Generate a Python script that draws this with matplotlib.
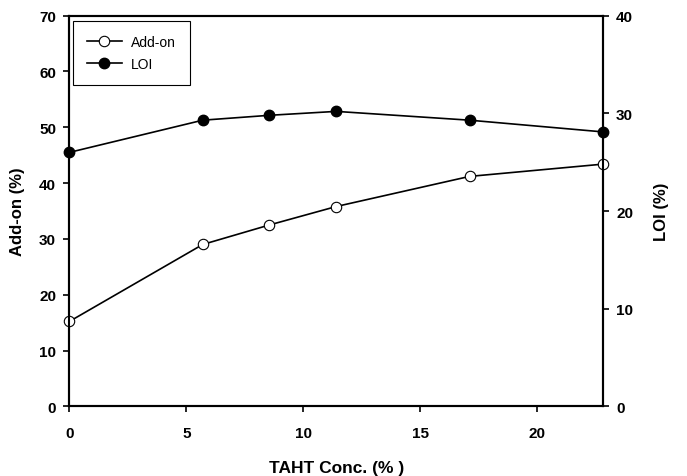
import numpy as np
import matplotlib
matplotlib.use("Agg")
import matplotlib.pyplot as plt

plt.rcParams['font.family'] = ['Liberation Sans', 'DejaVu Sans']

conc = [0, 5.7, 8.55, 11.4, 17.1, 22.8]
addon = [15.2, 29.0, 32.5, 35.8, 41.2, 43.4]
loi = [26.0, 29.3, 29.8, 30.2, 29.3, 28.1]

fig = plt.figure(figsize=(6.87, 4.77), dpi=100)
ax = fig.add_axes([0.1009, 0.1461, 0.7768, 0.8189])
ax2 = ax.twinx()

l1, = ax.plot(conc, addon, color='black', lw=1.2, marker='o', ms=7.5,
              mfc='white', mec='black', mew=0.8, clip_on=False, zorder=5, label='Add-on')
l2, = ax2.plot(conc, loi, color='black', lw=1.2, marker='o', ms=7.5,
               mfc='black', mec='black', clip_on=False, zorder=5, label='LOI')

ax.set_xlim(0, 22.8)
ax.set_ylim(0, 70)
ax2.set_ylim(0, 40)
ax.set_xticks([0, 5, 10, 15, 20])
ax.set_yticks(np.arange(0, 71, 10))
ax2.set_yticks(np.arange(0, 41, 10))

for a in (ax, ax2):
    for s in a.spines.values():
        s.set_linewidth(1.5)
    a.tick_params(direction='out', length=4.5, width=1.2, labelsize=11)
    for t in a.get_xticklabels() + a.get_yticklabels():
        t.set_fontweight('bold')
ax.tick_params(axis='x', pad=10)
ax.tick_params(axis='y', pad=5)
ax2.tick_params(axis='y', pad=5)

ax.set_xlabel('TAHT Conc. (% )', fontsize=12.5, fontweight='bold', labelpad=14)
ax.set_ylabel('Add-on (%)', fontsize=12, fontweight='bold', labelpad=10)
ax2.set_ylabel('LOI (%)', fontsize=12, fontweight='bold', labelpad=15)

leg = ax.legend(handles=[l1, l2], loc='upper left', bbox_to_anchor=(0.0064, 0.9857),
                borderaxespad=0, fancybox=False, framealpha=1, edgecolor='black',
                fontsize=10, handlelength=2.56, borderpad=1.0, labelspacing=0.55,
                handletextpad=0.65)
leg.get_frame().set_linewidth(0.8)
leg.set_zorder(10)

fig.savefig('out.png', dpi=100)
